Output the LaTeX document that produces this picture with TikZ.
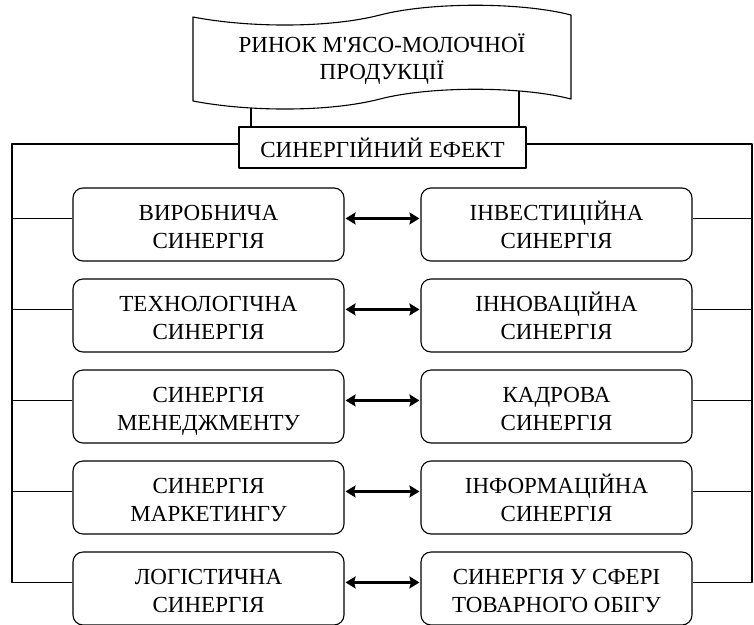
\documentclass[tikz,border=0pt]{standalone}
\usepackage{fontspec}
\setmainfont{Liberation Serif}
\newfontfamily\rawserif{Liberation Serif}
\usetikzlibrary{calc,arrows.meta}
\newcommand{\twol}[1]{\raisebox{-4.5pt}[\height][\depth]{\begin{tabular}{@{}c@{}}#1\end{tabular}}}
\tikzset{
  frame/.style={line width=1.1pt, line join=round},
  bigfont/.style={font=\rawserif\fontsize{23}{27.5}\selectfont},
  synbox/.style={frame, draw, rounded corners=10pt, minimum width=271pt, minimum height=73pt,
    inner sep=0pt, align=center, bigfont},
  effbox/.style={frame, draw, minimum width=287pt, minimum height=41pt, inner sep=0pt, bigfont},
  titletext/.style={align=center, inner sep=0pt, bigfont},
  biarrow/.style={<->, >={Stealth[length=10pt,width=12pt,inset=1.5pt]}, line width=2.6pt, shorten <=1pt, shorten >=1pt},
  wire/.style={frame}
}
\begin{document}
\begin{tikzpicture}[x=1pt,y=-1pt]
\useasboundingbox (0,0) rectangle (754,624);
% wavy title shape
\draw[frame] (193,17) .. controls (250,28) and (330,28) .. (380,15)
  .. controls (430,2) and (521,2) .. (571,15) -- (571,99)
  .. controls (521,86) and (430,86) .. (380,99)
  .. controls (330,112) and (250,112) .. (193,101) -- cycle;
\node[titletext] (T) at (382,59) {РИНОК М'ЯСО-МОЛОЧНОЇ\\ПРОДУКЦІЇ};
\coordinate (wb1) at (251,108);
\coordinate (wb2) at (519,91);
\node[effbox] (E) at (382.5,147.5) {СИНЕРГІЙНИЙ ЕФЕКТ};
\draw[wire] (wb1) -- (E.north -| wb1);
\draw[wire] (wb2) -- (E.north -| wb2);
% rows
\foreach \i/\lt/\rt in {
  1/{ВИРОБНИЧА\\СИНЕРГІЯ}/{ІНВЕСТИЦІЙНА\\СИНЕРГІЯ},
  2/{ТЕХНОЛОГІЧНА\\СИНЕРГІЯ}/{ІННОВАЦІЙНА\\СИНЕРГІЯ},
  3/{СИНЕРГІЯ\\МЕНЕДЖМЕНТУ}/{КАДРОВА\\СИНЕРГІЯ},
  4/{СИНЕРГІЯ\\МАРКЕТИНГУ}/{ІНФОРМАЦІЙНА\\СИНЕРГІЯ},
  5/{ЛОГІСТИЧНА\\СИНЕРГІЯ}/{СИНЕРГІЯ У СФЕРІ\\ТОВАРНОГО ОБІГУ}} {
  \pgfmathsetmacro{\yc}{188+91*(\i-1)+36.5}
  \node[synbox] (L\i) at (208.5,\yc) {\twol{\lt}};
  \node[synbox] (R\i) at (556.5,\yc) {\twol{\rt}};
  \coordinate (la\i) at ($(L\i.north east)+(0,31)$);
  \coordinate (ra\i) at ($(R\i.north west)+(0,31)$);
  \coordinate (lw\i) at ($(L\i.north west)+(0,31)$);
  \coordinate (re\i) at ($(R\i.north east)+(0,31)$);
  \draw[biarrow] (la\i) -- (ra\i);
}
% outer frame
\coordinate (ew) at ($(E.north west)+(0,17.5)$);
\coordinate (ee) at ($(E.north east)+(0,17.5)$);
\coordinate (TL) at (12,0 |- ew);
\coordinate (TR) at (752,0 |- ee);
\draw[wire] (ew) -- (TL) |- (lw5);
\draw[wire] (ee) -- (TR) |- (re5);
\foreach \i in {1,2,3,4} {
  \draw[wire] (lw\i) -- (lw\i -| TL);
  \draw[wire] (re\i) -- (re\i -| TR);
}
\end{tikzpicture}
\end{document}
